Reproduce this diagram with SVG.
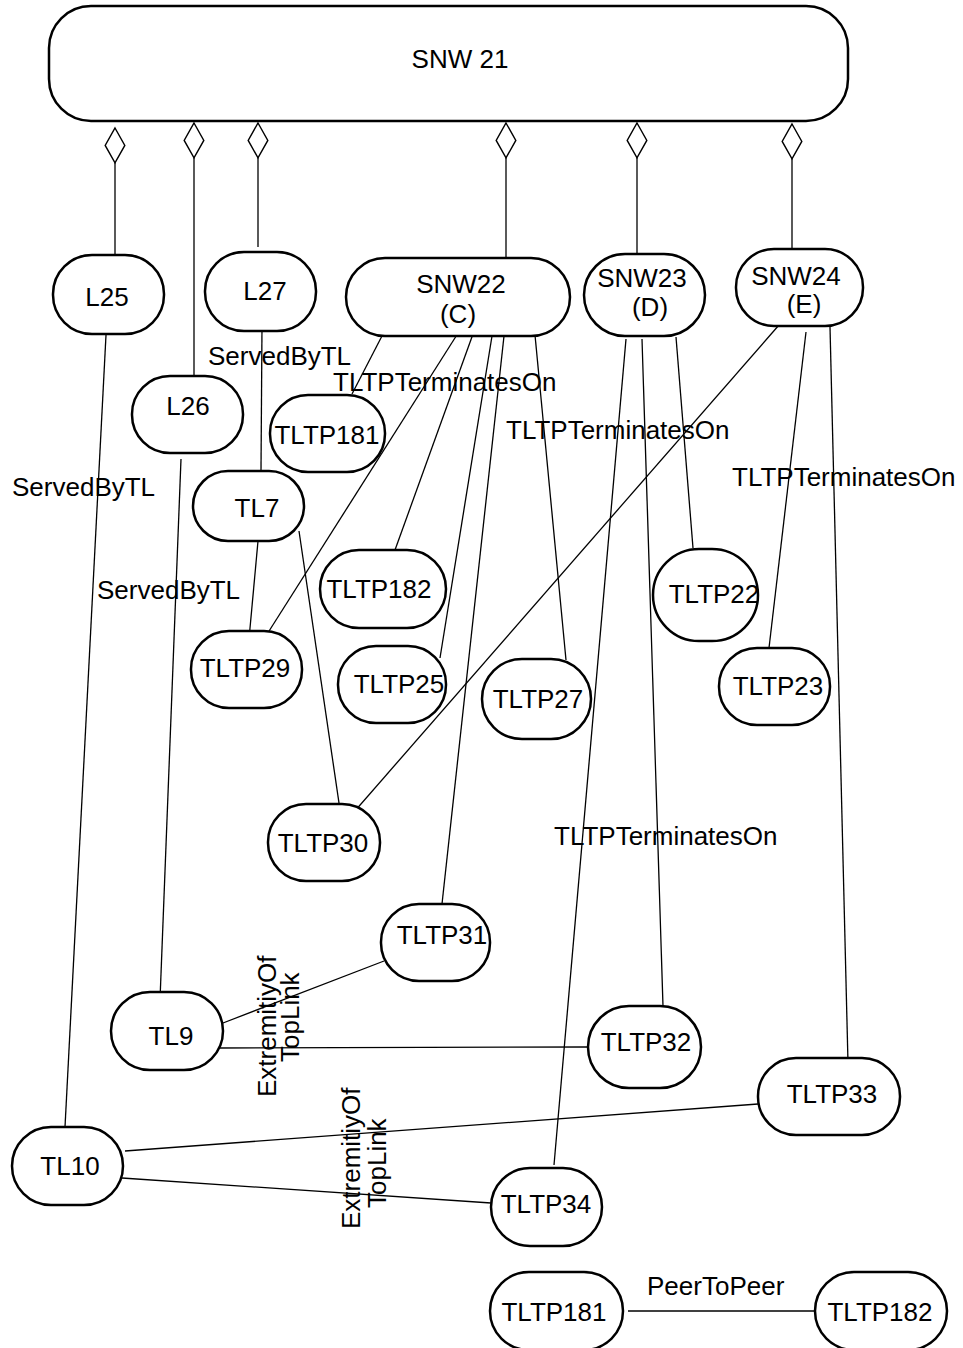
<svg xmlns="http://www.w3.org/2000/svg" width="963" height="1348" viewBox="0 0 963 1348">
<style>
.n{fill:#fff;stroke:#000;stroke-width:2.5}
.t{font-family:"Liberation Sans",Arial,sans-serif;font-size:26px;fill:#000;text-anchor:middle}
.l{font-family:"Liberation Sans",Arial,sans-serif;font-size:26px;fill:#000}
.c{fill:none;stroke:#000;stroke-width:1.3}
.a{fill:none;stroke:#000;stroke-width:1.3;marker-start:url(#dia)}
</style>
<defs>
<marker id="dia" markerUnits="userSpaceOnUse" markerWidth="40" markerHeight="24" refX="0" refY="0" viewBox="-2 -11 36 22" orient="auto">
<path d="M0,0 L16,-9 L32,0 L16,9 Z" fill="#fff" stroke="#000" stroke-width="1.3"/>
</marker>
</defs>
<rect width="963" height="1348" fill="#fff"/>
<g id="connectors">
<path class="a" d="M115,128 V254"/>
<path class="a" d="M194,123 V376"/>
<path class="a" d="M258,123 V247"/>
<path class="a" d="M506,123 V258"/>
<path class="a" d="M637,123 V254"/>
<path class="a" d="M792,124 V249"/>
<path class="c" d="M106,335 L65,1127"/>
<path class="c" d="M181,459 L160,1000"/>
<path class="c" d="M262,326 L261,470"/>
<path class="c" d="M258,541 L249,639"/>
<path class="c" d="M299,531 L339,803"/>
<path class="c" d="M383,334 L352,394"/>
<path class="c" d="M460,330 L264,639"/>
<path class="c" d="M473,334 L395,550"/>
<path class="c" d="M492,336 L440,658"/>
<path class="c" d="M504,336 L442,904"/>
<path class="c" d="M535,335 L566,660"/>
<path class="c" d="M626,339 L554,1165"/>
<path class="c" d="M642,339 L663,1006"/>
<path class="c" d="M676,337 L693,548"/>
<path class="c" d="M779,325 L354,812"/>
<path class="c" d="M806,332 L769,648"/>
<path class="c" d="M830,327 L848,1063"/>
<path class="c" d="M223,1023 L384,961"/>
<path class="c" d="M218,1048 L588,1047"/>
<path class="c" d="M125,1151 L758,1104"/>
<path class="c" d="M122,1178 L491,1203"/>
<path class="c" d="M628,1311 L815,1311"/>
</g>
<g id="labels">
<text class="l" x="208" y="365">ServedByTL</text>
<text class="l" x="333" y="391">TLTPTerminatesOn</text>
<text class="l" x="12" y="496">ServedByTL</text>
<text class="l" x="97" y="599">ServedByTL</text>
<text class="l" x="506" y="439">TLTPTerminatesOn</text>
<text class="l" x="732" y="486">TLTPTerminatesOn</text>
<text class="l" x="554" y="845">TLTPTerminatesOn</text>
<text class="l" x="647" y="1295">PeerToPeer</text>
<text class="l" transform="translate(276,1097) rotate(-90)">ExtremitiyOf</text>
<text class="l" transform="translate(299,1062) rotate(-90)">TopLink</text>
<text class="l" transform="translate(360,1229) rotate(-90)">ExtremitiyOf</text>
<text class="l" transform="translate(386,1208) rotate(-90)">TopLink</text>
</g>
<g id="SNW21"><rect class="n" x="49" y="6" width="799" height="115" rx="42" ry="42" stroke-width="3"/><text class="t" x="460" y="68">SNW 21</text></g>
<g id="L25"><rect class="n" x="53" y="255" width="111" height="79" rx="39" ry="39"/><text class="t" x="107" y="306">L25</text></g>
<g id="L27"><rect class="n" x="205" y="252" width="111" height="79" rx="39" ry="39"/><text class="t" x="265" y="300">L27</text></g>
<g id="L26"><rect class="n" x="132" y="376" width="111" height="77" rx="38" ry="38"/><text class="t" x="188" y="415">L26</text></g>
<g id="SNW22"><rect class="n" x="346" y="258" width="224" height="78" rx="39" ry="39"/><text class="t" x="461" y="293">SNW22</text><text class="t" x="458" y="323">(C)</text></g>
<g id="SNW23"><rect class="n" x="584" y="254" width="121" height="82" rx="41" ry="41"/><text class="t" x="642" y="287">SNW23</text><text class="t" x="650" y="316">(D)</text></g>
<g id="SNW24"><rect class="n" x="736" y="249" width="127" height="77" rx="38" ry="38"/><text class="t" x="796" y="285">SNW24</text><text class="t" x="804" y="313">(E)</text></g>
<g id="TLTP181a"><rect class="n" x="270" y="395" width="115" height="77" rx="38" ry="38"/><text class="t" x="327" y="444">TLTP181</text></g>
<g id="TL7"><rect class="n" x="193" y="471" width="111" height="70" rx="35" ry="35"/><text class="t" x="257" y="517">TL7</text></g>
<g id="TLTP182a"><rect class="n" x="320" y="550" width="126" height="78" rx="39" ry="39"/><text class="t" x="379" y="598">TLTP182</text></g>
<g id="TLTP29"><rect class="n" x="191" y="631" width="111" height="77" rx="38" ry="38"/><text class="t" x="245" y="677">TLTP29</text></g>
<g id="TLTP25"><rect class="n" x="338" y="646" width="108" height="77" rx="38" ry="38"/><text class="t" x="399" y="693">TLTP25</text></g>
<g id="TLTP27"><rect class="n" x="482" y="659" width="109" height="80" rx="40" ry="40"/><text class="t" x="538" y="708">TLTP27</text></g>
<g id="TLTP22"><rect class="n" x="653" y="549" width="105" height="92" rx="46" ry="46"/><text class="t" x="714" y="603">TLTP22</text></g>
<g id="TLTP23"><rect class="n" x="719" y="648" width="111" height="77" rx="38" ry="38"/><text class="t" x="778" y="695">TLTP23</text></g>
<g id="TLTP30"><rect class="n" x="268" y="804" width="112" height="77" rx="38" ry="38"/><text class="t" x="323" y="852">TLTP30</text></g>
<g id="TLTP31"><rect class="n" x="381" y="904" width="109" height="77" rx="38" ry="38"/><text class="t" x="442" y="944">TLTP31</text></g>
<g id="TL9"><rect class="n" x="111" y="992" width="112" height="78" rx="39" ry="39"/><text class="t" x="171" y="1045">TL9</text></g>
<g id="TLTP32"><rect class="n" x="588" y="1006" width="113" height="82" rx="41" ry="41"/><text class="t" x="646" y="1051">TLTP32</text></g>
<g id="TLTP33"><rect class="n" x="758" y="1058" width="142" height="77" rx="38" ry="38"/><text class="t" x="832" y="1103">TLTP33</text></g>
<g id="TLTP34"><rect class="n" x="491" y="1168" width="111" height="78" rx="39" ry="39"/><text class="t" x="546" y="1213">TLTP34</text></g>
<g id="TL10"><rect class="n" x="12" y="1127" width="111" height="78" rx="39" ry="39"/><text class="t" x="70" y="1175">TL10</text></g>
<g id="TLTP181b"><rect class="n" x="490" y="1272" width="133" height="78" rx="39" ry="39"/><text class="t" x="554" y="1321">TLTP181</text></g>
<g id="TLTP182b"><rect class="n" x="815" y="1272" width="132" height="78" rx="39" ry="39"/><text class="t" x="880" y="1321">TLTP182</text></g>
</svg>
